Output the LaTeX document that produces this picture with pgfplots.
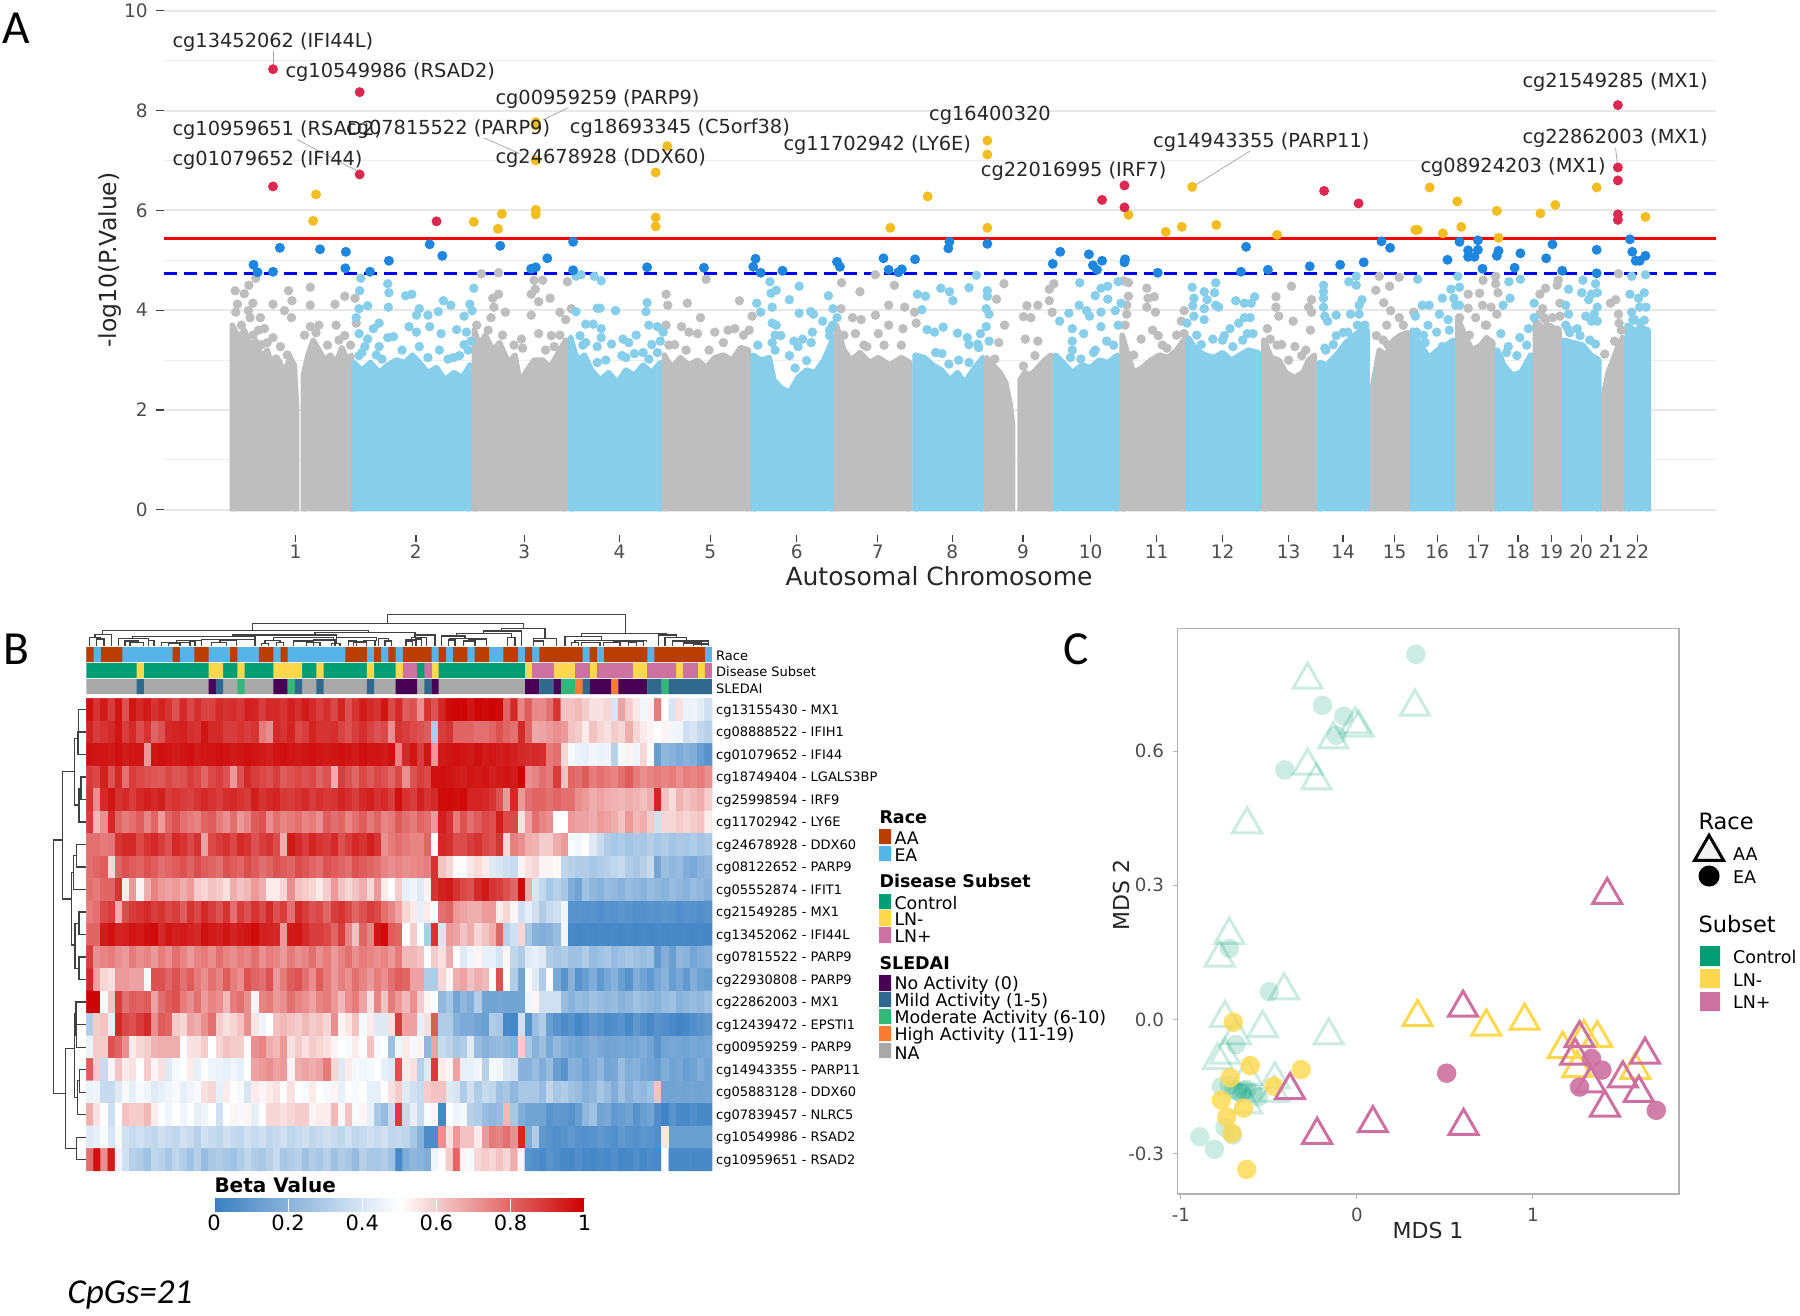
\documentclass[border=0pt]{standalone}
\usepackage{fontspec}
\setmainfont{DejaVu Sans}
\newfontfamily\carlito{Carlito}
\usepackage{pgfplots}
\pgfplotsset{compat=1.18}

\definecolor{gchr}{RGB}{190,190,190}
\definecolor{bchr}{RGB}{135,206,235}
\definecolor{hitred}{RGB}{220,40,80}
\definecolor{hityel}{RGB}{243,188,31}
\definecolor{hitblu}{RGB}{30,134,222}
\definecolor{tk}{RGB}{77,77,77}
\definecolor{aa}{RGB}{185,62,0}
\definecolor{ea}{RGB}{86,180,233}
\definecolor{ctrl}{RGB}{0,158,115}
\definecolor{lnm}{RGB}{255,216,77}
\definecolor{lnp}{RGB}{204,113,160}
\definecolor{noact}{RGB}{72,1,84}
\definecolor{mild}{RGB}{49,104,142}
\definecolor{modr}{RGB}{53,183,121}
\definecolor{high}{RGB}{251,122,52}
\definecolor{nasl}{RGB}{169,169,169}

\def\u{0.4pt}
\newcommand\fs[1]{\fontsize{#1}{#1}\selectfont}

% heatmap values, one row per CpG (0-100), read off by eye
\newcount\hc \newcount\hr
\def\H{}
\newcommand\hrow[1]{\global\hc=0
  \foreach \v in {#1}{\ifnum\hc<87 \xdef\H{\H(\the\hc,\the\hr)[\v]}\xdef\lastv{\v}\global\advance\hc by 1 \fi}%
  \loop\ifnum\hc<87 \xdef\H{\H(\the\hc,\the\hr)[\lastv]}\global\advance\hc by 1 \repeat
  \global\advance\hr by 1 }
\hrow{97,90,95,88,96,84,96,92,95,90, 93,90,84,92,86,91,87,87,92,90, 91,89,94,93,88,92,92,90,94,91, 95,92,88,91,86,93,84,90,95,92, 90,96,86,92,82,84,72,90,84,93, 98,99,99,96,99,98,99,98,80,92, 74,82,73,73,78,90,62,62,64,60, 56,56,58,40,68,60,55,47,52,76, 50,40,56,45,46,43,38}
\hrow{93,88,90,92,96,88,92,85,90,80, 84,92,93,94,91,90,96,92,92,88, 88,90,88,90,76,72,92,90,93,86, 88,93,90,90,91,87,84,88,91,87, 84,86,72,90,88,86,84,82,30,88, 90,80,80,80,78,78,80,84,80,78, 92,80,67,68,70,72,70,62,60,54, 62,58,56,60,58,66,58,54,52,50, 52,47,46,38,40,35,32}
\hrow{97,96,96,95,97,95,96,96,70,96, 97,96,95,96,97,95,96,96,97,96, 95,96,97,96,95,94,96,97,96,95, 96,97,96,95,96,97,96,95,97,96, 96,95,97,74,92,96,88,96,70,95, 96,97,96,95,97,95,96,94,95,94, 92,91,92,91,76,78,58,48,45,44, 47,45,46,32,48,52,46,58,50,12, 22,20,17,20,18,12,8}
\hrow{88,86,94,84,92,78,88,86,84,83, 82,86,83,84,88,86,80,86,88,84, 70,84,92,88,86,84,88,82,84,86, 84,86,80,84,66,88,84,80,86,82, 86,84,80,86,72,84,88,86,97,97, 96,95,94,96,95,96,94,95,96,95, 99,72,74,78,76,88,62,80,78,82, 76,78,76,74,78,82,76,72,74,76, 74,76,72,75,74,76,72}
\hrow{90,72,92,96,90,92,88,92,94,92, 94,88,90,88,87,90,92,90,88,91, 92,90,88,94,90,92,93,89,88,90, 92,88,91,89,90,93,91,88,92,94, 90,92,88,97,90,88,94,90,92,98, 98,97,98,93,93,92,90,84,70,92, 70,78,80,80,78,80,78,78,72,70, 66,68,66,65,64,66,65,63,66,93, 62,57,65,62,64,66,60}
\hrow{88,64,72,92,80,76,78,82,74,80, 70,80,84,78,76,74,80,82,76,72, 78,70,74,82,84,72,78,74,76,78, 74,76,72,82,78,80,74,78,82,76, 80,74,76,82,78,76,80,78,70,94, 90,76,84,78,82,86,84,94,86,86, 56,68,78,74,72,50,50,70,68,68, 66,70,68,66,62,70,64,66,60,38, 58,58,60,58,60,62,54}
\hrow{78,78,76,77,90,92,92,86,90,92, 88,84,92,90,86,90,68,86,88,90, 86,92,90,84,88,90,85,66,95,92, 88,93,90,88,92,84,88,92,90,94, 90,72,76,78,76,74,74,80,51,92, 91,85,85,88,90,86,84,90,58,75, 72,66,65,60,60,66,70,48,47,50, 42,36,30,28,30,27,29,28,31,28, 30,27,29,28,30,27,29}
\hrow{78,80,82,58,80,84,82,80,84,82, 78,80,82,84,80,85,82,80,78,84, 82,80,85,82,78,80,84,82,80,85, 83,80,78,84,82,80,78,84,82,80, 78,74,72,74,72,73,74,75,90,62, 58,51,51,55,57,54,42,40,38,36, 52,56,58,52,52,51,34,32,30,30, 28,30,32,34,36,30,28,32,36,15, 25,22,24,18,16,20,22}
\hrow{78,76,80,80,90,54,70,52,66,74, 70,68,70,66,70,60,58,62,60,56, 66,62,64,70,66,54,54,58,72,62, 60,58,54,60,70,62,58,62,66,58, 70,54,50,60,44,46,42,52,90,94, 95,90,86,84,92,95,90,88,84,80, 98,66,40,35,28,32,28,18,14,26, 22,20,24,22,20,24,22,20,24,22, 20,24,22,20,24,22,20}
\hrow{76,78,86,88,66,85,88,90,92,88, 90,86,88,82,90,86,92,88,84,90, 78,88,84,90,86,92,84,88,78,92, 88,84,86,80,88,90,86,80,84,88, 86,78,74,68,58,54,44,54,50,78, 80,70,68,66,66,70,70,54,58,52, 38,44,38,30,36,38,46,8,8,7, 8,6,8,7,9,8,6,7,8,7, 9,8,6,8,7,6,8}
\hrow{80,80,95,97,93,94,96,95,97,98, 92,96,94,95,93,92,97,95,94,96, 93,95,96,98,94,93,92,70,95,96, 92,88,88,86,80,88,74,62,80,74, 96,98,82,80,50,60,50,30,90,40, 70,68,62,66,58,62,66,80,32,38, 58,28,20,18,20,24,46,4,3,4, 3,4,3,4,3,4,3,4,3,4, 3,4,3,4,3,4,3}
\hrow{88,72,74,76,72,70,76,72,74,70, 76,72,78,74,70,74,76,72,78,74, 72,76,74,78,72,76,74,70,76,72, 74,78,72,76,70,74,78,72,76,74, 72,74,70,76,64,64,62,50,60,56, 66,50,42,46,52,44,44,40,52,34, 30,42,44,42,30,28,30,26,26,30, 24,26,28,24,26,28,26,24,26,10, 18,12,22,20,15,18,20}
\hrow{92,68,58,56,70,70,68,68,50,84, 84,80,84,78,82,76,72,78,74,82, 76,72,84,80,78,84,70,76,82,84, 78,72,82,76,70,75,72,78,74,70, 76,72,78,82,80,68,68,30,30,58, 52,66,68,62,66,64,50,84,50,30, 14,48,42,30,50,16,8,20,8,12, 18,10,16,20,12,8,18,14,10,16, 20,12,16,10,18,14,12}
\hrow{99,99,48,62,88,78,82,80,82,68, 78,82,84,76,72,78,70,74,72,64, 76,78,72,52,74,76,70,72,78,74, 72,68,74,76,70,64,72,76,68,56, 74,62,76,70,64,72,60,52,50,22, 28,15,22,18,30,14,14,15,14,14, 14,46,52,38,38,38,24,20,24,22, 26,24,22,24,20,22,26,24,22,20, 24,26,20,22,24,22,26}
\hrow{30,60,62,44,92,86,84,88,92,72, 82,80,60,58,68,66,72,78,60,56, 58,62,72,55,46,50,62,64,62,60, 64,60,62,58,72,52,55,62,48,54, 42,42,56,88,68,68,44,56,82,30, 30,20,17,17,14,12,30,28,4,3, 38,8,25,30,12,8,5,8,3,6, 10,8,5,6,8,4,10,6,4,8, 6,4,2,4,6,8,10}
\hrow{45,60,60,84,80,72,54,58,60,65, 66,66,66,50,56,56,60,50,58,62, 60,60,50,72,74,66,64,70,56,60, 56,60,58,56,52,50,48,54,50,62, 48,50,25,46,54,48,52,22,68,36, 33,28,30,42,24,20,22,24,22,20, 60,28,20,25,16,22,18,16,14,16, 18,16,14,15,16,14,16,18,15,8, 14,16,15,14,16,14,16}
\hrow{82,60,36,52,62,54,56,50,60,52, 56,42,48,50,54,44,50,46,45,44, 46,44,50,68,70,72,68,70,52,66, 68,66,68,76,58,42,54,48,46,48, 50,44,42,84,54,56,32,42,88,54, 52,68,44,44,46,32,48,46,40,38, 20,20,24,18,24,12,8,20,18,14, 18,22,14,16,24,18,20,16,14,12, 18,14,16,12,14,18,14}
\hrow{45,46,36,36,42,48,44,48,46,42, 44,46,48,44,46,48,56,58,44,54, 50,48,40,54,52,54,56,50,56,50, 48,54,50,48,52,44,50,48,50,44, 44,50,56,60,42,38,36,60,62,62, 42,40,30,38,30,36,34,26,28,22, 28,28,28,24,34,28,30,26,24,20, 22,28,24,18,26,20,24,22,26,62, 14,14,15,14,15,14,15}
\hrow{66,56,50,38,50,62,60,60,64,54, 50,46,50,46,50,44,46,50,38,50, 52,48,52,44,50,58,58,56,58,60, 60,52,54,54,64,48,62,48,52,44, 28,24,36,88,36,44,36,48,52,3, 50,46,48,32,30,24,22,24,64,28, 18,14,14,14,8,10,10,8,12,22, 26,14,16,10,12,14,8,12,14,6, 2,8,4,4,6,4,4}
\hrow{42,44,48,40,48,38,36,38,36,34, 38,36,34,38,36,32,38,36,34,38, 36,34,38,36,38,34,36,38,34,36, 38,34,36,38,36,34,38,34,36,38, 36,38,34,36,34,28,20,5,5,72, 56,70,62,62,54,70,76,74,78,72, 92,18,30,10,8,6,8,10,7,6, 8,10,8,6,10,8,7,9,8,6, 55,12,12,12,12,12,12}
\hrow{78,97,72,95,46,38,32,30,26,34, 32,28,34,30,26,32,24,28,30,28, 26,30,34,30,28,32,36,28,30,32, 26,30,28,32,26,30,28,24,32,28, 28,30,26,4,18,22,20,18,46,50, 60,80,52,48,58,60,58,62,58,66, 52,8,6,4,8,6,4,3,6,4, 3,5,4,6,3,4,6,3,5,4, 50,4,4,4,4,4,4}

\newcommand\br[5]{\addplot[dendl,forget plot] coordinates {(#1,#4)(#1,#3)(#2,#3)(#2,#5)};}
\newcommand\seg[4]{\addplot[draw=none,fill=#1,forget plot] coordinates {(#2,#4)(#3,#4)(#3,#4.94)(#2,#4.94)(#2,#4)};}
\newcommand\swatch[5]{\addplot[draw=none,fill=#1,forget plot] coordinates {(#2,#3)(#4,#3)(#4,#5)(#2,#5)(#2,#3)};}
\pgfplotsset{
  dendl/.style={color=black!75,line width=0.42pt,no markers},
  bare/.style={scale only axis,hide axis,clip=false,y dir=reverse,axis on top=false},
  dots/.style={only marks,mark=*,color=#1,mark size=1.9pt,mark options={draw opacity=0}},
  hits/.style={only marks,mark=*,color=#1,mark size=2pt,mark options={draw opacity=0}},
}

\begin{document}
\begin{tikzpicture}[x=0.4pt,y=-0.4pt]
\path[use as bounding box] (0,0) rectangle (1800,1315);

% ---- panel A
\begin{axis}[
  at={(164*\u,-534.7*\u)},anchor=south west,
  scale only axis,width=1552*\u,height=523.9*\u,clip=false,
  xmin=285,xmax=2990,ymin=-0.5,ymax=10,
  axis line style={draw=none},
  tick pos=left,tick align=outside,
  major tick length=3pt,
  tick style={color=black!75,line width=0.5pt},
  minor y tick num=1,minor tick length=0pt,
  ymajorgrids,yminorgrids,
  major grid style={color=black!9,line width=0.8pt},
  minor grid style={color=black!7,line width=0.4pt},
  ytick={0,2,4,6,8,10},
  xtick={514,724,913,1079,1237,1388,1529,1659,1782,1900,2015,2130,2245,2340,2430,2504,2576,2645,2703,2755,2807,2853},
  xticklabels={1,2,3,4,5,6,7,8,9,10,11,12,13,14,15,16,17,18,19,20,21,22},
  tick label style={font=\fs{7.4},color=tk},
  xticklabel style={yshift=2.6pt},
  /pgf/number format/assume math mode=true,
]
\pgfplotsset{every axis plot/.append style={forget plot}}
\newcommand\mass[2]{\addplot[draw=#1,fill=#1,line width=2.2pt,line join=round,no markers] coordinates {#2};}
\mass{gchr}{(404,-.03)(404,3.7)(415,3.45)(425,3.6)(435,3.3)(445,3.4)(455,3.05)(465,3.2)(475,2.8)(485,3.0)(495,2.75)(505,3.05)(512,2.9)(516,2.1)(516,-.03)}
\mass{gchr}{(528,-.03)(528,2.7)(536,3.1)(545,3.4)(555,3.2)(565,3.0)(575,3.1)(585,2.95)(595,3.25)(605,3.0)(612,3.1)(612,-.03)}
\mass{bchr}{(616,-.03)(616,2.95)(630,2.8)(645,2.95)(660,2.75)(675,2.9)(690,3.0)(705,2.95)(718,3.1)(730,2.95)(745,2.75)(760,2.85)(775,2.6)(790,2.75)(805,2.65)(818,2.9)(818,-.03)}
\mass{gchr}{(826,-.03)(826,3.6)(835,3.3)(845,3.5)(858,3.2)(870,3.35)(885,2.95)(897,3.1)(905,2.55)(918,2.8)(930,3.0)(945,3.0)(958,2.85)(970,3.1)(985,3.4)(985,-.03)}
\mass{bchr}{(994,-.03)(994,3.45)(1005,3.0)(1018,3.1)(1030,2.8)(1045,2.6)(1060,2.75)(1075,2.55)(1090,2.8)(1105,2.7)(1120,2.9)(1135,2.75)(1150,2.95)(1150,-.03)}
\mass{gchr}{(1157,-.03)(1157,3.1)(1170,2.85)(1185,3.05)(1200,2.9)(1215,3.0)(1230,2.85)(1245,3.05)(1260,3.1)(1275,3.0)(1290,3.25)(1304,3.2)(1304,-.03)}
\mass{bchr}{(1312,-.03)(1312,3.1)(1325,3.0)(1340,3.05)(1348,2.6)(1360,2.45)(1375,2.35)(1390,2.65)(1405,2.8)(1420,2.75)(1435,3.0)(1450,3.4)(1450,-.03)}
\mass{gchr}{(1457,-.03)(1457,3.7)(1470,3.2)(1483,3.0)(1498,3.15)(1515,2.95)(1530,3.05)(1550,2.9)(1570,3.05)(1585,2.95)(1585,-.03)}
\mass{bchr}{(1594,-.03)(1594,3.1)(1610,3.05)(1625,2.9)(1640,2.8)(1655,2.6)(1668,2.75)(1680,2.55)(1695,2.8)(1712,3.05)(1712,-.03)}
\mass{gchr}{(1719,-.03)(1719,3.05)(1730,2.9)(1742,2.75)(1752,2.55)(1760,2.1)(1764,1.7)(1764,-.03)}
\mass{gchr}{(1777,-.03)(1777,2.6)(1785,2.75)(1795,2.7)(1808,2.85)(1820,3.0)(1831,3.1)(1831,-.03)}
\mass{bchr}{(1839,-.03)(1839,3.1)(1852,2.95)(1868,2.75)(1885,2.9)(1900,2.85)(1915,3.0)(1930,2.95)(1947,3.1)(1947,-.03)}
\mass{gchr}{(1955,-.03)(1955,3.5)(1965,3.1)(1975,2.75)(1990,2.85)(2005,3.0)(2020,3.1)(2035,3.05)(2050,3.2)(2062,3.4)(2062,-.03)}
\mass{bchr}{(2070,-.03)(2070,3.45)(2085,3.2)(2100,3.1)(2115,3.05)(2130,3.15)(2145,3.0)(2160,3.1)(2175,3.2)(2192,3.15)(2192,-.03)}
\mass{gchr}{(2202,-.03)(2202,3.4)(2215,3.05)(2228,3.0)(2240,2.75)(2255,2.65)(2270,2.75)(2280,3.0)(2290,3.1)(2290,-.03)}
\mass{bchr}{(2299,-.03)(2299,2.95)(2312,2.9)(2328,3.1)(2345,3.35)(2360,3.5)(2372,3.6)(2382,3.6)(2382,-.03)}
\mass{gchr}{(2392,-.03)(2392,2.5)(2403,3.2)(2415,3.1)(2428,3.4)(2440,3.5)(2453,3.55)(2453,-.03)}
\mass{bchr}{(2461,-.03)(2461,3.6)(2475,3.3)(2490,3.05)(2505,3.2)(2520,3.3)(2532,3.4)(2532,-.03)}
\mass{gchr}{(2540,-.03)(2540,3.85)(2552,3.5)(2565,3.2)(2580,3.3)(2590,3.45)(2601,3.35)(2601,-.03)}
\mass{bchr}{(2609,-.03)(2609,3.2)(2620,2.9)(2635,2.7)(2650,2.75)(2667,3.1)(2667,-.03)}
\mass{gchr}{(2675,-.03)(2675,3.8)(2688,3.65)(2700,3.7)(2717,3.55)(2717,-.03)}
\mass{bchr}{(2725,-.03)(2725,3.4)(2740,3.35)(2758,3.3)(2772,3.1)(2786,3.0)(2786,-.03)}
\mass{gchr}{(2794,-.03)(2794,2.3)(2802,2.75)(2812,3.05)(2820,3.3)(2827,3.45)(2827,-.03)}
\mass{bchr}{(2835,-.03)(2835,3.7)(2848,3.6)(2860,3.65)(2872,3.6)(2872,-.03)}

% points above the solid part, grey chromosomes
\addplot[dots=gchr] coordinates {
(409,4.39)(425,4.33)(433,4.50)(445,4.64)(413,4.12)(410,3.96)(432,3.99)(435,3.85)(453,3.85)(440,4.14)
(475,4.12)(502,4.39)(508,4.19)(495,3.99)(507,3.85)(540,4.46)(540,4.10)(583,4.12)(600,4.28)(618,4.24)
(475,3.45)(488,3.27)(585,3.70)(555,3.70)(600,3.49)(620,3.74)(540,3.67)(460,3.63)(455,3.31)(480,3.02)
(838,4.73)(868,4.75)(858,4.24)(868,4.32)(860,4.06)(880,3.96)(855,3.85)(930,4.60)(932,4.42)(945,4.60)
(988,4.57)(925,4.32)(938,4.17)(958,4.24)(975,3.96)(925,3.90)(985,3.81)(995,4.03)(908,3.42)(938,3.53)
(960,3.49)(910,3.24)(965,3.27)
(1230,4.62)(1160,4.32)(1163,4.10)(1197,4.14)(1220,3.85)(1160,3.70)(1187,3.67)(1200,3.56)(1215,3.53)
(1245,3.56)(1268,3.60)(1288,4.19)(1310,3.88)(1280,3.63)(1175,3.31)
(1466,4.55)(1498,4.37)(1525,4.71)(1558,4.50)(1548,4.10)(1465,4.03)(1485,3.85)(1525,3.90)(1500,3.81)
(1548,3.70)(1490,3.53)(1530,3.53)(1510,3.27)(1576,4.06)(1593,3.96)(1573,3.63)(1596,3.74)
(1749,4.53)(1736,4.22)(1783,3.87)(1789,4.09)(1808,4.10)(1796,3.85)(1828,4.42)(1836,4.53)(1828,4.19)
(1833,3.96)(1750,3.70)(1740,3.35)(1786,3.42)(1808,3.38)(1783,2.88)(1803,3.09)(1733,3.02)
(1958,4.59)(1966,4.55)(1966,4.28)(1963,4.10)(1963,3.92)(1998,4.44)(2000,4.24)(2011,4.27)(1998,4.06)
(2013,3.96)(2008,3.60)(1988,3.42)(2063,3.99)(2058,3.78)(2063,3.53)(2018,3.49)(2033,3.24)
(2250,4.48)(2223,4.27)(2223,4.06)(2228,3.88)(2253,3.78)(2208,3.63)(2213,3.42)(2256,3.27)(2283,3.60)
(2280,4.06)(2285,4.21)(2285,3.96)(2268,3.09)(2233,3.31)
(2403,4.68)(2438,4.66)(2397,4.40)(2421,4.48)(2411,4.15)(2423,3.99)(2416,3.70)(2438,3.85)(2398,3.49)
(2418,3.31)(2463,3.96)
(2558,4.32)(2578,4.34)(2584,4.60)(2606,4.68)(2606,4.53)(2610,4.35)(2558,4.04)(2583,4.10)(2598,4.06)
(2543,3.85)(2571,3.85)(2608,3.92)(2588,3.70)(2553,3.45)(2568,2.95)
(2693,4.44)(2683,4.32)(2713,4.50)(2715,4.60)(2688,4.03)(2683,3.92)(2718,4.14)(2693,3.81)(2718,3.88)
(2678,3.67)(2713,3.60)
(2820,4.73)(2815,4.21)(2806,4.14)(2820,3.92)(2821,3.74)(2813,3.38)(2796,3.12)(2818,3.02)
(410,3.5)(420,3.7)(440,3.5)(450,3.6)(465,3.35)(500,3.1)(530,3.5)(550,3.55)(570,3.3)(590,3.4)(610,3.3)
(830,3.7)(850,3.6)(875,3.5)(895,3.3)(950,3.2)(975,3.5)(1165,3.3)(1195,3.2)(1235,3.2)(1260,3.35)(1295,3.5)
(1305,3.6)(1470,3.5)(1505,3.3)(1540,3.3)(1570,3.3)(1960,3.7)(1975,3.1)(2025,3.3)(2050,3.5)(2225,3.3)
(2245,3.0)(2275,3.2)(2410,3.4)(2445,3.7)(2560,3.5)(2590,3.7)(2690,3.85)(2705,3.85)(2825,3.6)};
% blue chromosomes
\addplot[dots=bchr] coordinates {
(628,4.64)(626,4.39)(625,4.03)(640,4.09)(620,3.85)(675,4.53)(677,4.35)(676,4.06)(706,4.29)(717,4.32)
(730,4.03)(725,3.90)(745,3.90)(763,3.97)(772,4.19)(785,4.10)(825,4.44)(818,4.12)(822,3.99)(808,3.88)
(712,3.67)(725,3.56)(748,3.67)(768,3.53)(795,3.61)(812,3.56)(660,3.74)(650,3.63)(625,3.53)(640,3.42)
(675,3.45)(685,3.47)(635,3.27)(660,3.27)(730,3.27)(765,3.20)(820,3.38)(808,3.31)(780,3.02)(800,3.09)
(625,3.09)(665,3.02)
(1003,4.68)(1012,4.71)(1035,4.68)(1047,4.59)(1003,3.97)(1040,4.04)(1045,4.04)(1072,3.99)(1020,3.72)
(1033,3.72)(1047,3.63)(1010,3.49)(1047,3.45)(1020,3.35)(1040,3.27)(1065,3.32)(1085,3.42)(1095,3.35)
(1108,3.50)(1127,4.15)(1125,3.97)(1130,3.70)(1145,3.67)(1155,3.56)(1135,3.31)(1150,3.38)(1000,3.09)
(1040,2.95)(1083,3.09)(1130,3.02)(1105,3.13)
(1341,4.57)(1352,4.40)(1343,4.34)(1318,4.14)(1375,4.21)(1392,4.48)(1345,4.06)(1325,3.96)(1392,3.94)
(1412,3.97)(1417,3.92)(1433,3.78)(1443,4.29)(1451,4.03)(1458,3.85)(1445,3.49)(1345,3.74)(1360,3.49)
(1383,3.38)(1398,3.42)(1415,3.56)(1390,3.27)(1413,3.35)(1375,3.09)(1405,2.99)(1385,2.84)
(1701,4.70)(1639,4.44)(1654,4.37)(1660,4.19)(1688,4.45)(1598,4.32)(1612,4.28)(1606,4.01)(1720,4.39)
(1720,4.28)(1718,4.03)(1723,3.92)(1718,3.67)(1615,3.61)(1643,3.66)(1628,3.56)(1668,3.54)(1685,3.45)
(1688,3.31)(1708,3.53)(1723,3.38)(1703,3.32)(1641,3.13)(1653,2.92)(1688,2.95)
(1881,4.55)(1930,4.48)(1918,4.44)(1948,4.57)(1908,4.29)(1930,4.22)(1880,4.10)(1893,3.99)(1918,3.96)
(1862,3.94)(1898,3.88)(1943,3.99)(1953,4.14)(1846,3.78)(1868,3.63)(1888,3.53)(1868,3.38)(1918,3.67)
(1948,3.70)(1928,3.38)(1868,3.20)(1908,3.20)(1883,3.02)
(2077,4.46)(2118,4.55)(2098,4.37)(2116,4.35)(2080,4.24)(2103,4.21)(2078,4.09)(2118,4.10)(2153,4.19)
(2168,4.14)(2180,4.14)(2186,4.27)(2098,4.03)(2123,4.06)(2080,3.88)(2098,3.81)(2168,3.85)(2158,3.74)
(2178,3.85)(2068,3.74)(2143,3.63)(2133,3.49)(2173,3.53)(2183,3.53)(2093,3.31)(2148,3.27)(2113,3.42)
(2306,4.50)(2306,4.37)(2306,4.24)(2306,4.06)(2308,3.88)(2313,3.78)(2350,4.57)(2363,4.50)(2363,4.68)
(2373,4.21)(2368,4.10)(2368,3.92)(2353,3.92)(2328,3.90)(2308,3.24)(2328,3.49)(2348,3.56)(2323,3.31)
(2470,4.62)(2478,4.10)(2490,4.10)(2466,3.88)(2508,3.92)(2513,4.24)(2528,4.42)(2533,4.24)(2543,4.46)
(2540,4.68)(2536,4.10)(2543,4.10)(2523,3.81)(2488,3.70)(2468,3.56)(2503,3.56)(2483,3.35)(2513,3.27)
(2629,4.57)(2649,4.62)(2631,4.24)(2619,4.10)(2615,3.53)(2628,3.27)(2648,3.45)(2663,3.63)(2673,4.14)
(2673,3.85)(2643,3.09)(2613,3.02)
(2758,4.60)(2780,4.53)(2783,4.35)(2756,4.35)(2773,4.32)(2733,4.42)(2728,4.10)(2733,3.92)(2728,3.70)
(2763,3.88)(2783,4.06)(2778,3.92)(2783,3.78)(2773,3.78)(2768,4.21)(2748,3.63)(2733,3.61)(2753,3.49)(2780,3.32)
(2843,4.68)(2867,4.71)(2840,4.32)(2855,4.24)(2865,4.35)(2857,4.06)(2868,4.06)(2843,3.96)(2858,3.74)(2848,3.81)
(630,3.15)(655,3.1)(700,3.2)(745,3.05)(790,3.05)(815,3.2)(1015,3.3)(1055,3.0)(1090,3.05)(1120,3.15)
(1145,3.15)(1320,3.3)(1345,3.35)(1350,3.2)(1350,3.5)(1352,3.7)(1445,3.6)(1450,3.7)(1630,3.15)(1670,3.0)
(1705,3.25)(1865,3.05)(1905,3.15)(1940,3.3)(2085,3.5)(2130,3.4)(2165,3.4)(2310,3.2)(2340,3.55)(2365,3.7)
(2378,3.7)(2480,3.5)(2525,3.6)(2625,3.15)(2660,3.3)(2735,3.55)(2770,3.4)(2845,3.8)(2865,3.8)};

\addplot[red,line width=1pt,no markers] coordinates {(285,5.44)(2990,5.44)};
\addplot[blue,line width=1.1pt,dash pattern=on 5pt off 3pt,no markers] coordinates {(285,4.73)(2990,4.73)};
% leader lines
\addplot[black!35,line width=0.3pt,no markers] coordinates {(475,9.19)(475,8.92)};
\addplot[black!35,line width=0.3pt,no markers] coordinates {(517,7.42)(620,6.80)};
\addplot[black!35,line width=0.3pt,no markers] coordinates {(843,7.45)(905,7.14)};
\addplot[black!35,line width=0.3pt,no markers] coordinates {(945,7.81)(990,8.06)};
\addplot[black!35,line width=0.3pt,no markers] coordinates {(2178,7.19)(2083,6.51)};
\addplot[black!35,line width=0.3pt,no markers] coordinates {(2815,7.25)(2818,6.94)};

\addplot[hits=hitblu] coordinates {
(441,4.91)(448,4.76)(475,4.77)(487,5.25)(557,5.22)(602,5.17)(601,4.84)(644,4.77)(677,4.99)(748,5.32)
(770,5.09)(871,5.29)(925,4.83)(933,4.86)(953,5.04)(998,5.37)(998,4.80)(1127,4.86)(1226,4.85)(1316,5.03)
(1312,4.87)(1325,4.75)(1363,4.79)(1458,4.97)(1463,4.87)(1539,5.04)(1548,4.81)(1565,4.76)(1571,4.82)
(1594,5.02)(1652,5.24)(1654,5.37)(1720,5.33)(1834,4.93)(1847,5.17)(1897,5.12)(1904,4.90)(1911,4.81)
(1920,4.99)(1960,5.02)(1959,4.96)(2017,4.75)(2171,5.27)(2162,4.77)(2209,4.81)(2282,4.88)(2335,4.91)
(2376,4.96)(2407,5.38)(2422,5.25)(2522,5.01)(2543,5.37)(2558,5.20)(2558,5.07)(2569,5.07)(2575,5.21)
(2575,5.40)(2583,4.83)(2608,5.09)(2611,5.19)(2649,5.14)(2639,4.85)(2694,5.04)(2705,5.32)(2722,4.79)
(2782,5.21)(2782,4.74)(2840,5.42)(2844,5.17)(2850,4.99)(2857,4.99)(2867,5.09)};
\addplot[hits=hityel] coordinates {
(550,6.32)(545,5.79)(825,5.77)(867,5.63)(874,5.93)(933,7.77)(933,7.70)(933,7.00)(933,6.01)(933,5.92)
(1162,7.29)(1142,6.76)(1142,5.86)(1142,5.68)(1551,5.65)(1616,6.28)(1720,7.40)(1720,7.12)(1720,5.65)
(1966,5.91)(2077,6.47)(2031,5.57)(2059,5.67)(2119,5.71)(2225,5.51)(2466,5.61)(2470,5.61)(2491,6.46)
(2514,5.54)(2539,6.18)(2546,5.67)(2608,5.99)(2611,5.45)(2684,5.94)(2710,6.11)(2782,6.46)(2867,5.87)};
\addplot[hits=hitred] coordinates {
(475,8.83)(626,8.37)(626,6.72)(475,6.48)(760,5.78)(1959,6.50)(1920,6.21)(1959,6.06)(2307,6.39)(2367,6.14)
(2819,8.11)(2819,6.86)(2819,6.60)(2819,5.92)(2819,5.81)};
\end{axis}

\foreach \x/\y/\t in {172/42/{cg13452062 (IFI44L)},285/72/{cg10549986 (RSAD2)},495/99.6/{cg00959259 (PARP9)},
  172/130.6/{cg10959651 (RSAD2)},345.6/129/{cg07815522 (PARP9)},569.4/128/{cg18693345 (C5orf38)},
  172/160.4/{cg01079652 (IFI44)},495/158/{cg24678928 (DDX60)},928.7/115.7/{cg16400320},
  783/145.5/{cg11702942 (LY6E)},980.4/170.8/{cg22016995 (IRF7)},1152.6/142/{cg14943355 (PARP11)},
  1522/82.4/{cg21549285 (MX1)},1522/138.6/{cg22862003 (MX1)},1420/167.3/{cg08924203 (MX1)}}
  {\node[anchor=west,inner sep=0pt,font=\fs{7.75},text=black!85] at (\x,\y) {\t};}
\node[font=\fs{10},text=black!85] at (939,576) {Autosomal Chromosome};
\node[rotate=90,font=\fs{9.4},text=black!85] at (110,260) {-log10(P.Value)};

% ---- panel B, annotation bars
\begin{axis}[bare,at={(86.4*\u,-647*\u)},anchor=north west,width=625.6*\u,height=48*\u,
  xmin=0,xmax=87,ymin=0,ymax=3]
\seg{ea}{0}{87}{0}
\seg{aa}{0}{1}{0}\seg{aa}{2}{5}{0}\seg{aa}{12}{13}{0}\seg{aa}{15}{17}{0}\seg{aa}{20}{21}{0}
\seg{aa}{24}{26}{0}\seg{aa}{27}{28}{0}\seg{aa}{36}{39}{0}\seg{aa}{40}{41}{0}\seg{aa}{42}{43}{0}
\seg{aa}{44}{48}{0}\seg{aa}{49}{50}{0}\seg{aa}{51}{53}{0}\seg{aa}{54}{56}{0}\seg{aa}{58}{60}{0}
\seg{aa}{61}{62}{0}\seg{aa}{63}{69}{0}\seg{aa}{70}{71}{0}\seg{aa}{72}{78}{0}\seg{aa}{79}{86}{0}
\seg{ctrl}{0}{87}{1}
\seg{lnm}{7}{8}{1}\seg{lnm}{17}{19}{1}\seg{lnm}{21}{22}{1}\seg{lnm}{26}{30}{1}\seg{lnm}{32}{33}{1}
\seg{lnm}{39}{40}{1}\seg{lnm}{43}{44}{1}\seg{lnm}{48}{49}{1}\seg{lnm}{61}{62}{1}\seg{lnm}{65}{68}{1}
\seg{lnm}{70}{71}{1}\seg{lnm}{76}{78}{1}\seg{lnm}{82}{83}{1}\seg{lnm}{85}{86}{1}
\seg{lnp}{44}{46}{1}\seg{lnp}{47}{48}{1}\seg{lnp}{62}{65}{1}\seg{lnp}{68}{70}{1}\seg{lnp}{71}{76}{1}
\seg{lnp}{78}{82}{1}\seg{lnp}{83}{85}{1}\seg{lnp}{86}{87}{1}
\seg{nasl}{0}{87}{2}
\seg{mild}{7}{8}{2}\seg{noact}{17}{18}{2}\seg{mild}{18}{19}{2}\seg{modr}{21}{22}{2}\seg{noact}{26}{28}{2}
\seg{modr}{28}{29}{2}\seg{mild}{29}{30}{2}\seg{mild}{32}{33}{2}\seg{mild}{39}{40}{2}\seg{noact}{43}{46}{2}
\seg{mild}{47}{48}{2}\seg{noact}{48}{49}{2}\seg{noact}{61}{63}{2}\seg{mild}{63}{65}{2}\seg{noact}{65}{66}{2}
\seg{modr}{66}{68}{2}\seg{high}{68}{69}{2}\seg{mild}{69}{70}{2}\seg{noact}{70}{73}{2}\seg{high}{73}{74}{2}
\seg{noact}{74}{78}{2}\seg{mild}{78}{80}{2}\seg{modr}{80}{81}{2}\seg{mild}{81}{87}{2}
\end{axis}

% heatmap
\begin{axis}[bare,at={(86.4*\u,-698.3*\u)},anchor=north west,width=625.6*\u,height=472.5*\u,
  xmin=-0.5,xmax=86.5,ymin=-0.5,ymax=20.5,
  colormap={bwr}{rgb255(0)=(58,127,194) rgb255(1)=(255,255,255) rgb255(2)=(204,0,0)},
  point meta min=0,point meta max=100,
  colorbar horizontal,
  colorbar style={
    at={(0.204,-0.0587)},anchor=north west,
    width=370.6*\u,height=13.3*\u,
    xtick={0,20,40,60,80,100},xticklabels={0,0.2,0.4,0.6,0.8,1},
    xticklabel style={font=\fs{8.4},color=black,yshift=2.3pt},
    xtick style={color=white,line width=0.4pt},
    tick align=inside,major tick length=3pt,
    axis line style={draw=none},
  },
]
\edef\tmp{\noexpand\addplot[matrix plot*,shader=flat corner,draw=mapped color,line width=0.25pt,mesh/cols=87,point meta=explicit,forget plot] coordinates {\H};}
\tmp
\end{axis}

% column dendrogram, left and right half
\begin{axis}[bare,at={(80*\u,-605*\u)},anchor=north west,width=320*\u,height=45*\u,
  xmin=0,xmax=960,ymin=0,ymax=135]
\br{45}{95}{88}{97}{122}\br{28}{62}{97}{122}{102}\br{50}{72}{102}{122}{122}
\br{68}{865}{76}{88}{82}\br{705}{1005}{82}{90}{90}\br{458}{770}{90}{95}{98}
\br{157}{525}{95}{100}{103}\br{115}{205}{100}{122}{106}\br{135}{175}{108}{122}{112}
\br{150}{190}{112}{122}{122}\br{205}{222}{106}{122}{122}\br{245}{330}{112}{122}{116}
\br{265}{300}{116}{122}{122}\br{290}{365}{106}{112}{122}\br{330}{345}{110}{122}{122}
\br{365}{525}{103}{106}{122}\br{395}{440}{112}{122}{122}\br{420}{470}{107}{112}{122}
\br{470}{525}{103}{107}{122}\br{545}{565}{115}{122}{122}\br{590}{610}{112}{122}{122}
\br{555}{600}{107}{115}{112}\br{580}{760}{98}{107}{105}\br{640}{700}{108}{122}{122}
\br{680}{720}{112}{122}{122}\br{700}{765}{105}{112}{122}\br{755}{780}{115}{122}{122}
\br{770}{890}{97}{115}{107}\br{805}{830}{108}{122}{122}\br{820}{860}{111}{122}{122}
\br{850}{885}{107}{111}{122}\br{895}{925}{100}{122}{108}\br{915}{935}{108}{122}{122}
\end{axis}
\begin{axis}[bare,at={(400*\u,-605*\u)},anchor=north west,width=320*\u,height=45*\u,
  xmin=0,xmax=960,ymin=0,ymax=135]
\br{-38}{676}{28}{55}{85}\br{-442}{370}{55}{76}{70}
\br{45}{105}{90}{98}{122}\br{35}{80}{98}{105}{122}\br{18}{50}{105}{122}{108}\br{18}{38}{108}{122}{122}\br{48}{65}{102}{122}{122}
\br{305}{435}{70}{78}{98}\br{250}{365}{78}{86}{122}\br{170}{335}{86}{93}{98}\br{125}{195}{93}{122}{100}
\br{150}{245}{100}{105}{105}\br{145}{165}{105}{122}{122}\br{190}{225}{108}{122}{122}\br{205}{260}{102}{108}{122}
\br{322}{345}{98}{122}{122}\br{400}{470}{100}{108}{122}\br{400}{430}{108}{122}{122}
\br{545}{800}{85}{95}{90}\br{495}{605}{95}{122}{106}\br{515}{535}{112}{122}{122}\br{525}{740}{106}{112}{110}
\br{545}{600}{112}{122}{122}\br{610}{660}{113}{122}{122}\br{640}{730}{110}{113}{122}\br{685}{710}{113}{122}{122}
\br{775}{830}{90}{122}{97}\br{795}{860}{97}{122}{108}\br{818}{925}{108}{122}{114}\br{850}{905}{114}{122}{122}\br{880}{925}{117}{122}{122}
\end{axis}

% row dendrogram
\begin{axis}[bare,at={(45*\u,-695*\u)},anchor=north west,width=50*\u,height=480*\u,
  xmin=0,xmax=150,ymin=0,ymax=1440]
\pgfplotsset{every axis plot/.append style={forget plot}}
\newcommand\rb[5]{\addplot[dendl] coordinates {(#4,#1)(#3,#1)(#3,#2)(#5,#2)};}
\rb{435}{1195}{25}{53}{62}
\rb{230}{612}{53}{88}{80}
\rb{130}{330}{88}{100}{102}
\rb{44}{145}{100}{122}{99}
\rb{111}{179}{99}{122}{122}
\rb{280}{381}{102}{108}{122}
\rb{246}{314}{108}{122}{122}
\rb{533}{750}{80}{85}{90}
\rb{482}{584}{85}{95}{122}
\rb{449}{516}{95}{122}{122}
\rb{685}{820}{90}{102}{102}
\rb{651}{719}{102}{122}{122}
\rb{786}{854}{102}{122}{122}
\rb{1060}{1360}{62}{88}{95}
\rb{955}{1208}{88}{93}{97}
\rb{921}{1022}{93}{122}{95}
\rb{989}{1056}{95}{122}{122}
\rb{1157}{1259}{97}{103}{122}
\rb{1124}{1191}{103}{122}{122}
\rb{1326}{1394}{95}{122}{122}
\end{axis}

% ---- panel C
\begin{axis}[
  at={(1177.7*\u,-1194*\u)},anchor=south west,
  scale only axis,width=501.3*\u,height=565.6*\u,
  xmin=-1.018,xmax=1.83,ymin=-0.39,ymax=0.874,
  axis line style={color=black!30,line width=0.5pt},
  tick pos=left,tick align=outside,major tick length=2pt,
  tick style={color=black!30,line width=0.4pt},
  xtick={-1,0,1},ytick={-0.3,0,0.3,0.6},yticklabels={-0.3,0.0,0.3,0.6},
  tick label style={font=\fs{7.3},color=tk},
  /pgf/number format/assume math mode=true,
]
\pgfplotsset{every axis plot/.append style={forget plot}}
\addplot[only marks,mark=*,color=ctrl,mark size=3.9pt,mark options={draw opacity=0,fill opacity=.2}] coordinates {
(0.335,0.816)(-0.195,0.702)(-0.074,0.678)(-0.117,0.635)(-0.41,0.558)(-0.725,0.159)(-0.497,0.062)(-0.687,-0.056)
(-0.77,-0.15)(-0.725,-0.147)(-0.70,-0.156)(-0.675,-0.162)(-0.655,-0.165)(-0.645,-0.158)(-0.624,-0.156)(-0.59,-0.165)
(-0.56,-0.173)(-0.75,-0.241)(-0.705,-0.258)(-0.892,-0.262)(-0.809,-0.29)};
\addplot[only marks,mark=triangle,color=ctrl,mark size=6.7pt,mark options={draw opacity=.2,line width=1.2pt}] coordinates {
(-0.28,0.759)(0.33,0.699)(-0.01,0.659)(0.01,0.652)(-0.134,0.626)(-0.28,0.567)(-0.23,0.534)(-0.624,0.436)(-0.725,0.189)
(-0.78,0.138)(-0.413,0.065)(-0.75,0.003)(-0.535,-0.019)(-0.16,-0.036)(-0.687,-0.036)(-0.79,-0.091)(-0.75,-0.079)
(-0.466,-0.134)(-0.47,-0.164)(-0.624,-0.126)(-0.624,-0.19)};
\addplot[only marks,mark=*,color=lnm,mark size=3.9pt,mark options={draw opacity=0,fill opacity=.8}] coordinates {
(-0.702,-0.006)(-0.606,-0.103)(-0.317,-0.112)(-0.72,-0.13)(-0.471,-0.149)(-0.77,-0.18)(-0.644,-0.198)(-0.74,-0.218)(-0.71,-0.254)(-0.626,-0.335)};
\addplot[only marks,mark=triangle,color=lnm,mark size=6.7pt,mark options={line width=1.2pt}] coordinates {
(0.345,0.005)(0.735,-0.016)(0.953,-0.003)(1.169,-0.066)(1.29,-0.04)(1.366,-0.042)(1.252,-0.109)(1.582,-0.113)};
\addplot[only marks,mark=*,color=lnp,mark size=3.9pt,mark options={draw opacity=0,fill opacity=.9}] coordinates {
(0.51,-0.12)(1.333,-0.087)(1.392,-0.113)(1.265,-0.151)(1.701,-0.203)};
\addplot[only marks,mark=triangle,color=lnp,mark size=6.7pt,mark options={line width=1.2pt}] coordinates {
(0.603,0.026)(1.422,0.278)(-0.38,-0.158)(-0.226,-0.258)(0.091,-0.232)(0.606,-0.238)(1.265,-0.042)(1.24,-0.081)
(1.637,-0.079)(1.511,-0.132)(1.328,-0.143)(1.602,-0.164)(1.409,-0.197)};
\end{axis}

% legend keys, page coordinates in pixels
\begin{axis}[bare,at={(0,0)},anchor=north west,width=720pt,height=526pt,
  xmin=0,xmax=1800,ymin=0,ymax=1315]
\swatch{aa}{879}{829}{891}{844}\swatch{ea}{879}{846}{891}{861}
\swatch{ctrl}{879}{894}{891}{909}\swatch{lnm}{879}{910}{891}{926}\swatch{lnp}{879}{927}{891}{943}
\swatch{noact}{879}{975}{891}{991}\swatch{mild}{879}{992}{891}{1007}\swatch{modr}{879}{1009}{891}{1024}
\swatch{high}{879}{1026}{891}{1041}\swatch{nasl}{879}{1043}{891}{1058}
\swatch{black!5}{1698}{842}{1720}{886}
\swatch{ctrl}{1700}{946}{1720}{966}\swatch{lnm}{1700}{969}{1720}{988}\swatch{lnp}{1700}{992}{1720}{1011}
\addplot[only marks,mark=triangle,color=black,mark size=6.7pt,mark options={line width=1.2pt},forget plot] coordinates {(1709,852)};
\addplot[only marks,mark=*,color=black,mark size=4pt,forget plot] coordinates {(1709,876)};
\end{axis}

% text of panel B and C
\foreach \r/\t in {0/{cg13155430 - MX1},1/{cg08888522 - IFIH1},2/{cg01079652 - IFI44},3/{cg18749404 - LGALS3BP},
  4/{cg25998594 - IRF9},5/{cg11702942 - LY6E},6/{cg24678928 - DDX60},7/{cg08122652 - PARP9},8/{cg05552874 - IFIT1},
  9/{cg21549285 - MX1},10/{cg13452062 - IFI44L},11/{cg07815522 - PARP9},12/{cg22930808 - PARP9},13/{cg22862003 - MX1},
  14/{cg12439472 - EPSTI1},15/{cg00959259 - PARP9},16/{cg14943355 - PARP11},17/{cg05883128 - DDX60},
  18/{cg07839457 - NLRC5},19/{cg10549986 - RSAD2},20/{cg10959651 - RSAD2}}
  {\node[anchor=west,inner sep=0pt,font=\fs{5.2}] at (715.7,{710.6+22.5*\r}) {\t};}
\foreach \y/\t in {655.7/Race,672/Disease Subset,689/SLEDAI}
  {\node[anchor=west,inner sep=0pt,font=\fs{5.2}] at (715.7,\y) {\t};}
\foreach \y/\t in {817/Race,881/Disease Subset,963/SLEDAI}
  {\node[anchor=west,inner sep=0pt,font=\fs{7}\bfseries] at (879,\y) {\t};}
\foreach \y/\t in {838/AA,855/EA,903/Control,919/LN-,936/LN+,985/No Activity (0),1002/Mild Activity (1-5),
  1019/Moderate Activity (6-10),1036/High Activity (11-19),1053/NA}
  {\node[anchor=west,inner sep=0pt,font=\fs{6.95}] at (894,\y) {\t};}
\node[anchor=west,inner sep=0pt,font=\fs{8}\bfseries] at (214,1185) {Beta Value};
\node[anchor=west,inner sep=0pt,font=\fs{14}\carlito\itshape] at (67,1295) {CpGs=21};
\node[font=\fs{19}\carlito] at (16,28) {A};
\node[font=\fs{19}\carlito] at (16,649) {B};
\node[font=\fs{19}\carlito] at (1076,649) {C};
\node[font=\fs{8.8},text=black!85] at (1428,1230) {MDS 1};
\node[rotate=90,font=\fs{8.8},text=black!85] at (1121.6,895) {MDS 2};
\node[anchor=west,inner sep=0pt,font=\fs{9}] at (1698,821) {Race};
\node[anchor=west,inner sep=0pt,font=\fs{9}] at (1698,924) {Subset};
\foreach \y/\t in {854/AA,877/EA,957/Control,980/LN-,1002/LN+}
  {\node[anchor=west,inner sep=0pt,font=\fs{7}] at (1732.6,\y) {\t};}
\end{tikzpicture}
\end{document}
